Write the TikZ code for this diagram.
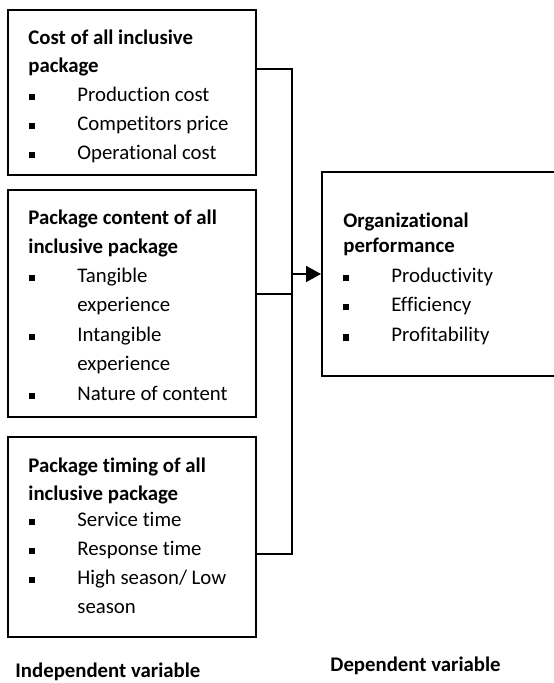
\documentclass[tikz,border=0pt]{standalone}
\usepackage{fontspec}
\setmainfont{Carlito}[Ligatures=NoCommon]
\usepackage{tikz}
\usetikzlibrary{arrows.meta, calc}

\newcommand{\sqbul}{\makebox[24pt][l]{\rule[0.75pt]{3pt}{3pt}}}

\begin{document}
\begin{tikzpicture}[x=0.5pt, y=-0.5pt,
    box/.style={draw, line width=1pt, inner sep=0pt},
    link/.style={line width=0.8pt},
    txt/.style={anchor=base west, inner sep=0pt, font=\fontsize{10.4}{12}\selectfont},
    hd/.style={txt, font=\fontsize{10.4}{12}\selectfont\bfseries}]
  \useasboundingbox (0,0) rectangle (553,683);

  % independent variables
  \node[box, minimum width=124pt, minimum height=82.5pt] (cost) at (132,92.5) {};
  \node[hd] (cost1) at (28,45) {Cost of all inclusive};
  \node[hd] (cost2) at (28,73) {package};
  \node[txt] (cost3) at (29,102) {\sqbul Production cost};
  \node[txt] (cost4) at (29,131) {\sqbul Competitors price};
  \node[txt] (cost5) at (29,160) {\sqbul Operational cost};

  \node[box, minimum width=124pt, minimum height=113.5pt] (content) at (132,303.5) {};
  \node[hd] (content1) at (28,225) {Package content of all};
  \node[hd] (content2) at (28,254) {inclusive package};
  \node[txt] (content3) at (29,283) {\sqbul Tangible};
  \node[txt] (content4) at (77,312) {experience};
  \node[txt] (content5) at (29,341) {\sqbul Intangible};
  \node[txt] (content6) at (77,370) {experience};
  \node[txt] (content7) at (29,400) {\sqbul Nature of content};

  \node[box, minimum width=124pt, minimum height=100pt] (timing) at (132,537) {};
  \node[hd] (timing1) at (28,472) {Package timing of all};
  \node[hd] (timing2) at (28,500) {inclusive package};
  \node[txt] (timing3) at (29,526) {\sqbul Service time};
  \node[txt] (timing4) at (29,555) {\sqbul Response time};
  \node[txt] (timing5) at (29,584) {\sqbul High season/ Low};
  \node[txt] (timing6) at (77,613) {season};

  % dependent variable
  \node[box, minimum width=119pt, minimum height=102pt] (perf) at (441,274) {};
  \node[hd] (perf1) at (343,228) {Organizational};
  \node[hd] (perf2) at (343,253) {performance};
  \node[txt] (perf3) at (343,283) {\sqbul Productivity};
  \node[txt] (perf4) at (343,312) {\sqbul Efficiency};
  \node[txt] (perf5) at (343,342) {\sqbul Profitability};

  % connectors
  \coordinate (jt) at (292,69);
  \coordinate (jb) at (292,554);
  \draw[link] (cost.east |- jt) -- (jt) -- (jb) -- (timing.east |- jb);
  \draw[link] (content.east |- 0,294) -- (jt |- 0,294);
  \draw[link, -{Triangle[length=7.5pt, width=8pt]}] (jt |- perf.west) -- (perf.west);

  \node[hd] (indep) at (15,677) {Independent variable};
  \node[hd] (dep) at (330,671) {Dependent variable};
\end{tikzpicture}
\end{document}
